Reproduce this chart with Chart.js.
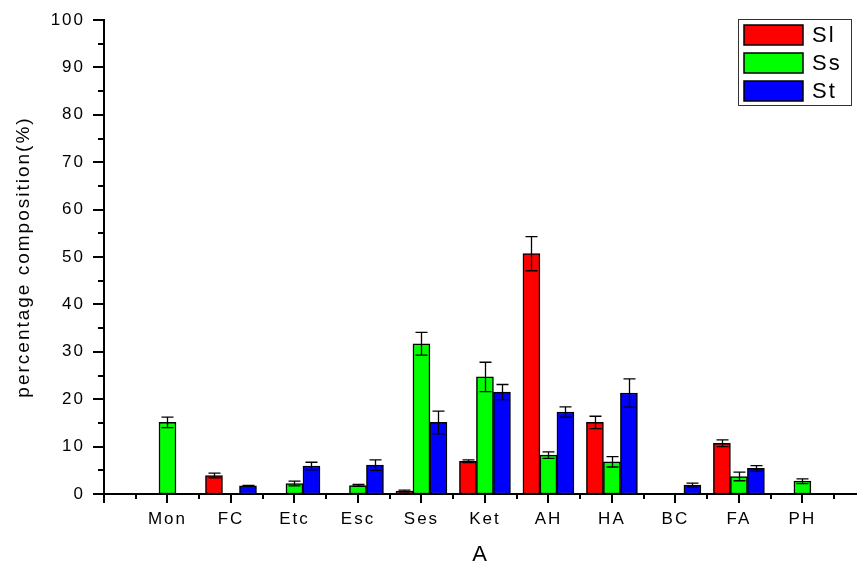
<!DOCTYPE html>
<html>
<head>
<meta charset="utf-8">
<style>
html,body{margin:0;padding:0;background:#fff;}
#wrap{width:857px;height:562px;}
</style>
<script src="https://cdn.jsdelivr.net/npm/chart.js@4.4.1/dist/chart.umd.min.js"></script>
</head>
<body>
<div id="wrap"><canvas id="mycanvas" width="857" height="562"></canvas></div>
<script>
// categories, placed at x = 1..11 on the axis
var groups = ['Mon','FC','Etc','Esc','Ses','Ket','AH','HA','BC','FA','PH'];
var seriesNames = ['Sl','Ss','St'];

// percentage composition, null = not present
var slVals = [null, 3.9, null, null, 0.6, 6.9, 50.7, 15.1, null, 10.7, null];
var ssVals = [15.1, null, 2.2, 1.8, 31.7, 24.7, 8.2, 6.8, null, 3.7, 2.7];
var stVals = [null, 1.7, 5.9, 6.1, 15.1, 21.5, 17.3, 21.3, 1.9, 5.4, null];

// error (+/-)
var slErr = [null, 0.5, null, null, 0.2, 0.3, 3.6, 1.3, null, 0.7, null];
var ssErr = [1.1, null, 0.5, 0.2, 2.4, 3.1, 0.7, 1.1, null, 0.9, 0.5];
var stErr = [null, 0.1, 0.8, 1.1, 2.4, 1.6, 1.1, 3.0, 0.4, 0.6, null];

var yTicks = [0,10,20,30,40,50,60,70,80,90,100];

function pts(vals){
  return vals.map(function(v,i){ return {x:i+1, y:v}; });
}

var spacing = {
  id:'spacing',
  beforeLayout:function(chart){ chart.ctx.letterSpacing = '2px'; },
  beforeDraw:function(chart){ chart.ctx.letterSpacing = '2px'; }
};

// axis tick marks (major + minor), drawn through the scales
var axisTicks = {
  id:'axisTicks',
  afterDraw:function(chart){
    var ctx = chart.ctx, xs = chart.scales.x, ys = chart.scales.y, ca = chart.chartArea;
    ctx.save();
    ctx.strokeStyle = '#000';
    ctx.lineWidth = 2;
    ctx.beginPath();
    for (var v = xs.min; v <= xs.max + 1e-6; v += 0.5){
      var px = Math.round(xs.getPixelForValue(v));
      var len = (v % 1 === 0) ? 9 : 5;
      ctx.moveTo(px, ca.bottom);
      ctx.lineTo(px, ca.bottom + len);
    }
    for (var w = ys.min; w <= ys.max + 1e-6; w += 5){
      var py = Math.round(ys.getPixelForValue(w));
      var l2 = (w % 10 === 0) ? 11 : 6;
      ctx.moveTo(ca.left - l2, py);
      ctx.lineTo(ca.left, py);
    }
    ctx.stroke();
    ctx.restore();
  }
};

// error bars
var errorBars = {
  id:'errorBars',
  afterDatasetsDraw:function(chart){
    var ctx = chart.ctx, ys = chart.scales.y;
    ctx.save();
    ctx.strokeStyle = '#000';
    ctx.lineWidth = 1.3;
    chart.data.datasets.forEach(function(ds, di){
      var meta = chart.getDatasetMeta(di);
      meta.data.forEach(function(el, j){
        var v = ds.data[j].y, e = ds.errors[j];
        if (v == null || e == null) return;
        var top = ys.getPixelForValue(v + e);
        var bot = ys.getPixelForValue(Math.max(v - e, 0));
        var cx = Math.round(el.x) + 0.5;
        ctx.beginPath();
        ctx.moveTo(cx, top); ctx.lineTo(cx, bot);
        ctx.moveTo(cx - 6, top); ctx.lineTo(cx + 6, top);
        ctx.moveTo(cx - 6, bot); ctx.lineTo(cx + 6, bot);
        ctx.stroke();
      });
    });
    ctx.restore();
  }
};

// boxed legend inside the plot, top right
var boxLegend = {
  id:'boxLegend',
  afterDraw:function(chart){
    var ctx = chart.ctx, ca = chart.chartArea;
    var bx = ca.right - 119, by = ca.top - 1, bw = 113, bh = 86;
    ctx.save();
    ctx.strokeStyle = '#333';
    ctx.lineWidth = 1;
    ctx.strokeRect(bx + 0.5, by + 0.5, bw, bh);
    ctx.font = '22px "Liberation Sans", Arial, sans-serif';
    ctx.textBaseline = 'middle';
    ctx.fillStyle = '#000';
    chart.data.datasets.forEach(function(ds, i){
      var ry = by + 6 + i * 28;
      ctx.fillStyle = ds.backgroundColor;
      ctx.fillRect(bx + 6, ry, 59, 20);
      ctx.lineWidth = 1.5;
      ctx.strokeStyle = '#000';
      ctx.strokeRect(bx + 6, ry, 59, 20);
      ctx.fillStyle = '#000';
      ctx.fillText(ds.label, bx + 74, ry + 11);
    });
    ctx.restore();
  }
};

Chart.defaults.font.family = '"Liberation Sans", Arial, sans-serif';
Chart.defaults.color = '#000';

var ctx = document.getElementById('mycanvas');
var myChart = new Chart(ctx, {
  type:'bar',
  data:{
    datasets:[
      {label:seriesNames[0], data:pts(slVals), errors:slErr, backgroundColor:'#ff0000'},
      {label:seriesNames[1], data:pts(ssVals), errors:ssErr, backgroundColor:'#00ff00'},
      {label:seriesNames[2], data:pts(stVals), errors:stErr, backgroundColor:'#0000ff'}
    ]
  },
  options:{
    responsive:false,
    animation:false,
    devicePixelRatio:1,
    layout:{padding:{top:20, left:0, right:0, bottom:0}},
    datasets:{bar:{barThickness:17, borderColor:'#000', borderWidth:1.5, borderSkipped:false}},
    plugins:{legend:{display:false}, tooltip:{enabled:false}},
    scales:{
      x:{
        type:'linear', min:0, max:11.86, offset:false,
        grid:{display:false, drawTicks:false, offset:false},
        border:{display:true, color:'#000', width:2},
        ticks:{
          stepSize:0.5, autoSkip:false, maxRotation:0, padding:15,
          font:{size:17},
          callback:function(v){
            if (v % 1 !== 0) return '';
            return groups[v - 1] || '';
          }
        },
        title:{display:true, text:'A', font:{size:22}, padding:{top:0, bottom:-6}},
        afterFit:function(s){ s.height = 68; s.paddingLeft = 0; s.paddingRight = 0; }
      },
      y:{
        min:0, max:100,
        grid:{display:false, drawTicks:false},
        border:{display:true, color:'#000', width:2},
        ticks:{
          stepSize:10, padding:19, font:{size:17},
          callback:function(v){ return yTicks.indexOf(v) >= 0 ? String(v) : ''; }
        },
        title:{display:true, text:'percentage composition(%)', font:{size:19}, padding:{top:12, bottom:0}},
        afterFit:function(s){ s.width = 104; s.paddingTop = 0; s.paddingBottom = 0; }
      }
    }
  },
  plugins:[spacing, errorBars, axisTicks, boxLegend]
});
</script>
</body>
</html>
